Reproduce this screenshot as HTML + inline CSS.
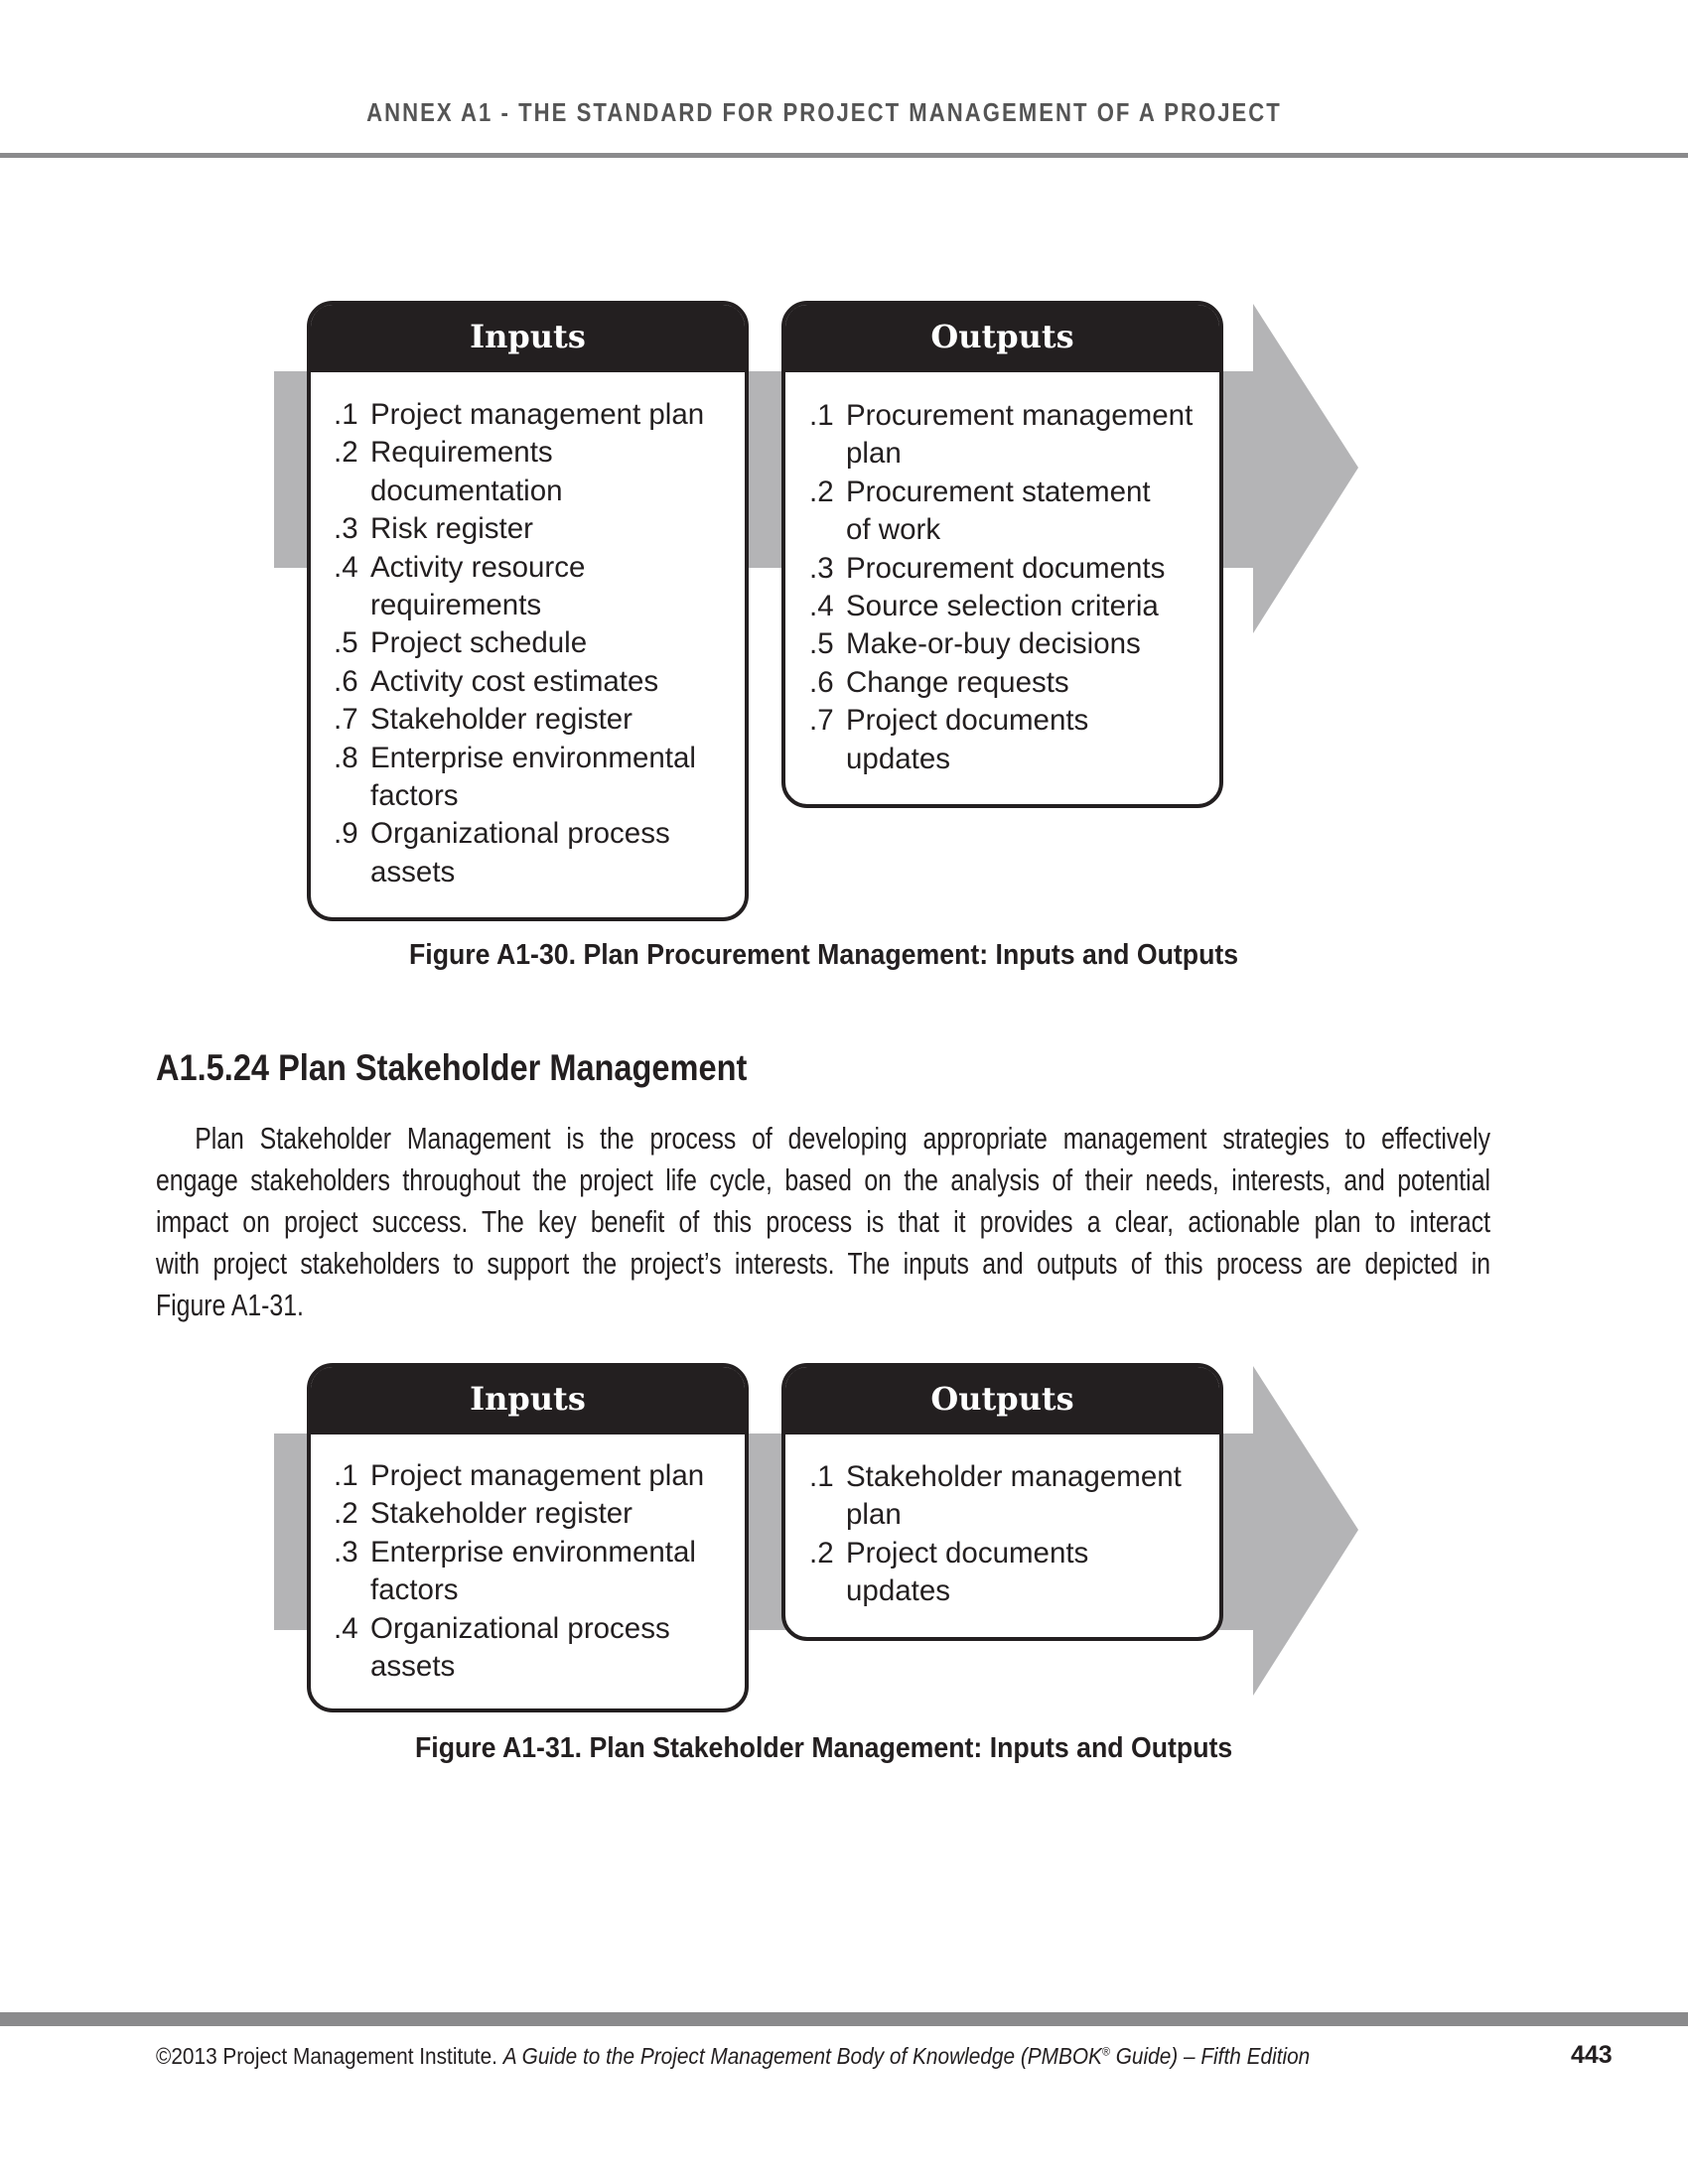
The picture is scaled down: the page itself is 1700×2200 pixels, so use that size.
<!DOCTYPE html>
<html><head><meta charset="utf-8"><style>
body{margin:0;width:1700px;height:2200px;background:#fff;position:relative;overflow:hidden;font-family:"Liberation Sans",sans-serif;color:#231f20}
.a{position:absolute}
.band{position:absolute;background:#b4b4b6}
.box{position:absolute;border:4px solid #231f20;border-radius:26px;background:#fff;box-sizing:border-box;overflow:hidden}
.hd{background:#231f20;color:#fff;height:68px;line-height:64px;text-align:center;font-family:"DejaVu Serif","Liberation Serif",serif;font-weight:bold;font-size:32px}
.list{position:absolute;font-family:"Liberation Sans",sans-serif;font-size:29.5px;line-height:38.4px;color:#231f20}
.list div{position:relative;padding-left:37px;white-space:nowrap}
.list span{position:absolute;left:0}
.cap{position:absolute;font-weight:bold;font-size:29px;white-space:nowrap;transform:scaleX(0.92);transform-origin:left top}
.p{transform:scaleX(0.8);transform-origin:left top}
.p div{text-align:justify;text-align-last:justify;height:42px;line-height:42px;white-space:nowrap}
</style></head><body>
<div class="a" style="left:-20px;top:98px;width:1700px;text-align:center;font-weight:bold;font-size:26px;letter-spacing:2.4px;color:#555;transform:scaleX(0.85);transform-origin:center top">ANNEX A1 - THE STANDARD FOR PROJECT MANAGEMENT OF A PROJECT</div>
<div class="a" style="left:0;top:154px;width:1700px;height:5px;background:#8a8a8c"></div>

<!-- Figure 1 -->
<div class="band" style="left:276px;top:374px;width:990px;height:198px"></div>
<svg class="a" style="left:1262px;top:306px" width="108" height="334"><polygon points="0,0 106,165 0,332" fill="#b4b4b6"/></svg>
<div class="box" style="left:309px;top:303px;width:445px;height:625px"><div class="hd">Inputs</div></div>
<div class="box" style="left:787px;top:303px;width:445px;height:511px"><div class="hd">Outputs</div></div>
<div class="list" style="left:336px;top:399px">
<div><span>.1</span>Project management plan</div>
<div><span>.2</span>Requirements</div><div>documentation</div>
<div><span>.3</span>Risk register</div>
<div><span>.4</span>Activity resource</div><div>requirements</div>
<div><span>.5</span>Project schedule</div>
<div><span>.6</span>Activity cost estimates</div>
<div><span>.7</span>Stakeholder register</div>
<div><span>.8</span>Enterprise environmental</div><div>factors</div>
<div><span>.9</span>Organizational process</div><div>assets</div>
</div>
<div class="list" style="left:815px;top:400px">
<div><span>.1</span>Procurement management</div><div>plan</div>
<div><span>.2</span>Procurement statement</div><div>of work</div>
<div><span>.3</span>Procurement documents</div>
<div><span>.4</span>Source selection criteria</div>
<div><span>.5</span>Make-or-buy decisions</div>
<div><span>.6</span>Change requests</div>
<div><span>.7</span>Project documents</div><div>updates</div>
</div>
<div class="cap" style="left:412px;top:946px">Figure A1-30. Plan Procurement Management: Inputs and Outputs</div>

<div class="a" style="left:157px;top:1055px;font-weight:bold;font-size:37px;white-space:nowrap;transform:scaleX(0.88);transform-origin:left top">A1.5.24 Plan Stakeholder Management</div>
<div class="a p" style="left:157px;top:1126px;width:1680px;font-size:31px">
<div style="padding-left:49px">Plan Stakeholder Management is the process of developing appropriate management strategies to effectively</div>
<div>engage stakeholders throughout the project life cycle, based on the analysis of their needs, interests, and potential</div>
<div>impact on project success. The key benefit of this process is that it provides a clear, actionable plan to interact</div>
<div>with project stakeholders to support the project’s interests. The inputs and outputs of this process are depicted in</div>
<div style="text-align-last:left">Figure A1-31.</div>
</div>

<!-- Figure 2 -->
<div class="band" style="left:276px;top:1444px;width:990px;height:198px"></div>
<svg class="a" style="left:1262px;top:1376px" width="108" height="334"><polygon points="0,0 106,165 0,332" fill="#b4b4b6"/></svg>
<div class="box" style="left:309px;top:1373px;width:445px;height:352px"><div class="hd">Inputs</div></div>
<div class="box" style="left:787px;top:1373px;width:445px;height:280px"><div class="hd">Outputs</div></div>
<div class="list" style="left:336px;top:1468px">
<div><span>.1</span>Project management plan</div>
<div><span>.2</span>Stakeholder register</div>
<div><span>.3</span>Enterprise environmental</div><div>factors</div>
<div><span>.4</span>Organizational process</div><div>assets</div>
</div>
<div class="list" style="left:815px;top:1469px">
<div><span>.1</span>Stakeholder management</div><div>plan</div>
<div><span>.2</span>Project documents</div><div>updates</div>
</div>
<div class="cap" style="left:418px;top:1745px">Figure A1-31. Plan Stakeholder Management: Inputs and Outputs</div>

<div class="a" style="left:0;top:2027px;width:1700px;height:14px;background:#8a8a8c"></div>
<div class="a" style="left:157px;top:2058px;font-size:23px;white-space:nowrap;transform:scaleX(0.905);transform-origin:left top">©2013 Project Management Institute. <i>A Guide to the Project Management Body of Knowledge (PMBOK<sup style="font-size:12px">®</sup> Guide) – Fifth Edition</i></div>
<div class="a" style="left:1582px;top:2056px;font-size:25px;font-weight:bold">443</div>
</body></html>
